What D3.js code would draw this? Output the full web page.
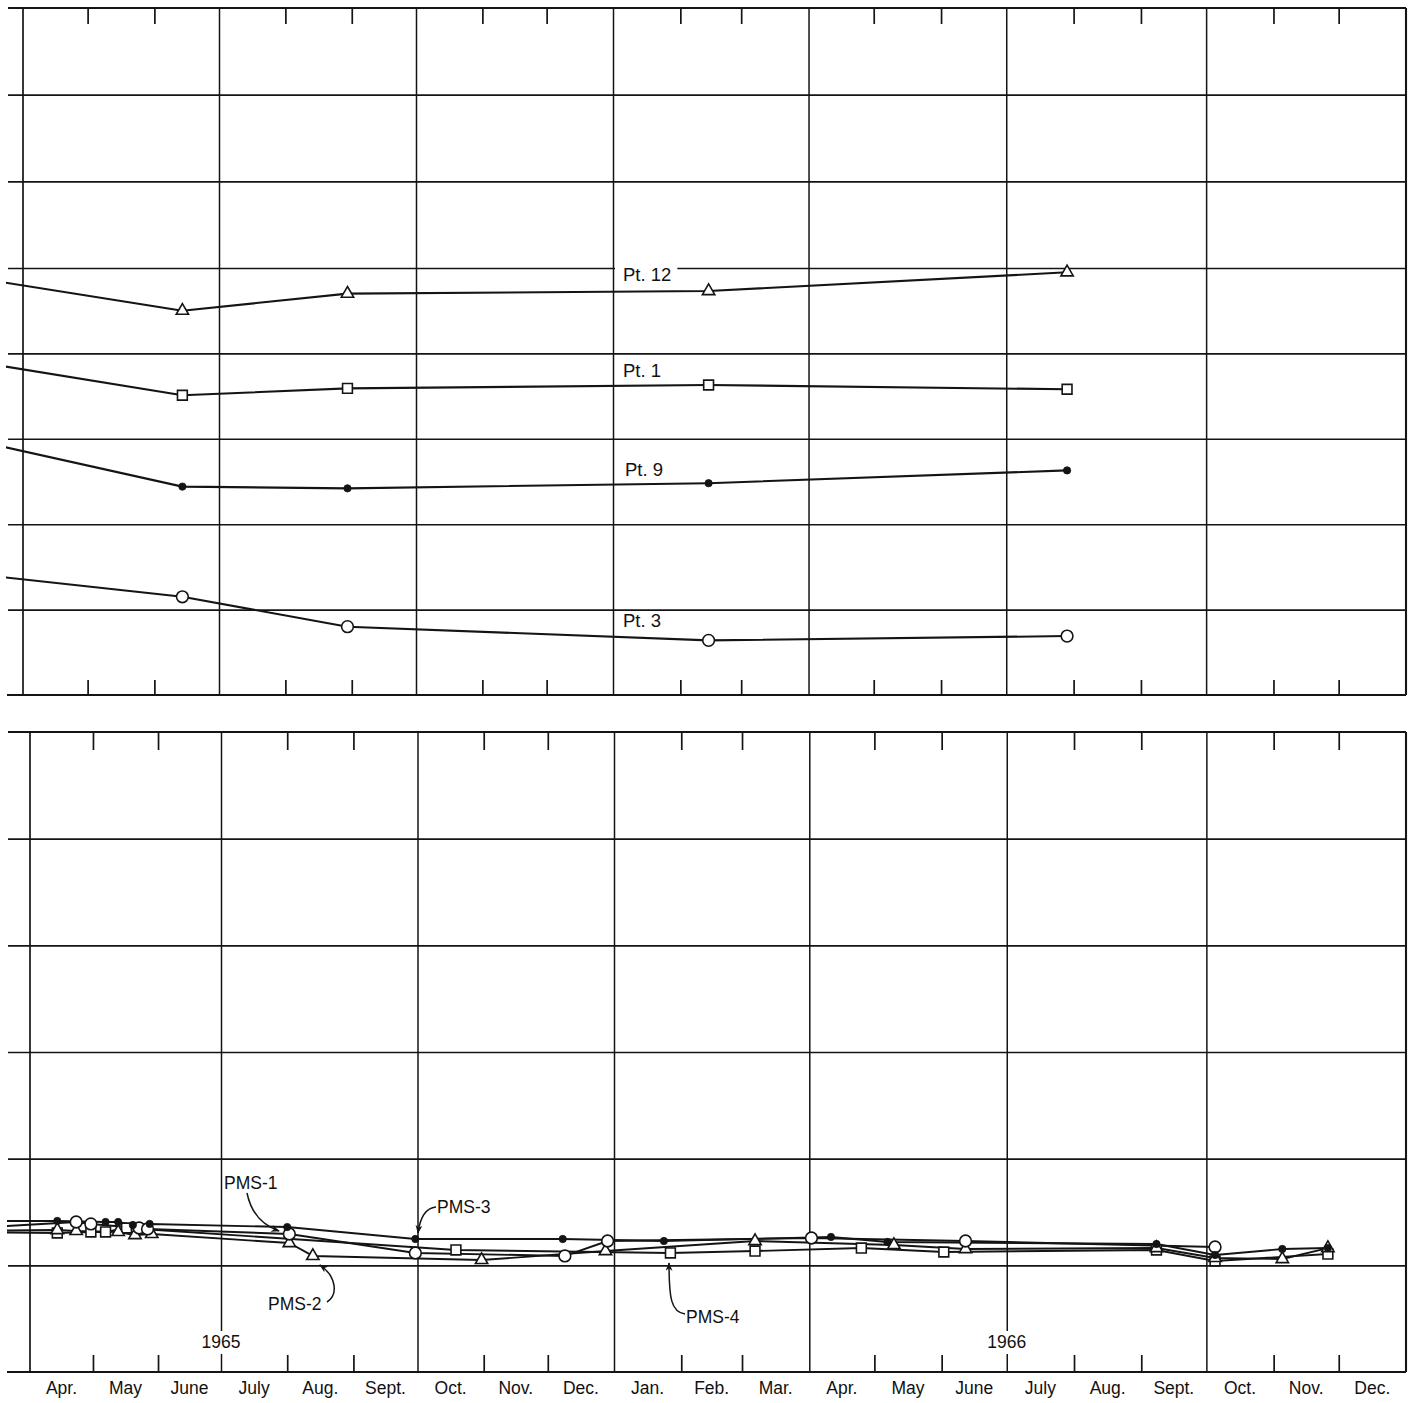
<!DOCTYPE html>
<html><head><meta charset="utf-8">
<script src="https://cdn.jsdelivr.net/npm/d3@7"></script>
<style>
html,body{margin:0;padding:0;background:#fff;}
svg{display:block;background:#fff;}
text{font-family:"Liberation Sans",Arial,Helvetica,sans-serif;fill:#111;}
</style></head><body>
<svg id="chart" width="1418" height="1403"></svg>
<script>
// ---------------- data ----------------
const monthLabels = ["Apr.","May","June","July","Aug.","Sept.","Oct.","Nov.","Dec.","Jan.","Feb.","Mar.","Apr.","May","June","July","Aug.","Sept.","Oct.","Nov.","Dec."];
const yearLabels = ["1965","1966"];
const yearDates = ["1965-07-01","1966-07-01"];

// upper panel: survey dates and values (arbitrary vertical units, grid = 1 unit)
const topDates = ["1965-03-01","1965-06-14","1965-08-30","1966-02-14","1966-07-29"];
const pt12 = [4.92,4.50,4.70,4.73,4.95];
const pt1  = [3.94,3.51,3.59,3.63,3.58];
const pt9  = [3.03,2.44,2.42,2.48,2.63];
const pt3  = [1.44,1.15,0.80,0.64,0.69];
const topNames = ["Pt. 12","Pt. 1","Pt. 9","Pt. 3"];

// lower panel
const pms1Dates = ["1965-03-01","1965-04-23","1965-04-30","1965-05-23","1965-05-27","1965-08-02","1965-09-30","1965-12-09","1965-12-29","1966-04-02","1966-06-12","1966-10-05"];
const pms1 = [1.345,1.406,1.388,1.350,1.341,1.294,1.116,1.088,1.228,1.256,1.228,1.172];
const pms2Dates = ["1965-03-01","1965-04-14","1965-04-23","1965-05-13","1965-05-21","1965-05-29","1965-08-02","1965-08-13","1965-10-31","1965-12-28","1966-03-07","1966-05-10","1966-06-12","1966-09-08","1966-10-05","1966-11-05","1966-11-26"];
const pms2 = [1.322,1.331,1.322,1.313,1.284,1.294,1.209,1.088,1.050,1.134,1.228,1.191,1.153,1.162,1.069,1.059,1.162];
const pms3Dates = ["1965-03-01","1965-04-14","1965-05-07","1965-05-13","1965-05-20","1965-05-28","1965-08-01","1965-09-30","1965-12-08","1966-01-24","1966-04-11","1966-05-07","1966-09-08","1966-10-05","1966-11-05","1966-11-26"];
const pms3 = [1.416,1.416,1.406,1.406,1.378,1.388,1.359,1.247,1.247,1.228,1.266,1.219,1.200,1.097,1.153,1.162];
const pms4Dates = ["1965-03-01","1965-04-14","1965-04-30","1965-05-07","1965-05-17","1965-10-19","1966-01-27","1966-03-07","1966-04-25","1966-06-02","1966-09-08","1966-10-05","1966-11-26"];
const pms4 = [1.313,1.303,1.313,1.313,1.350,1.144,1.116,1.134,1.162,1.125,1.144,1.041,1.106];
const pmsNames = ["PMS-1","PMS-2","PMS-3","PMS-4"];

// ---------------- setup ----------------
const parse = d3.timeParse("%Y-%m-%d");
const svg = d3.select("#chart");
const INK = "#141414";
const start = new Date(1965,3,1), end = new Date(1967,0,1);
const xTop = d3.scaleTime().domain([start,new Date(1965,6,1),new Date(1966,0,1),end]).range([23,219,613,1406]);
const xBot = d3.scaleTime().domain([start,new Date(1965,6,1),new Date(1966,0,1),end]).range([30,221,614,1406]);
const yTop = d3.scaleLinear().domain([0,5,8]).range([695,268,8]);
const yBot = d3.scaleLinear().domain([0,6]).range([1372,732]);

const months = d3.timeMonth.range(start,end);
const quarters = months.filter(m => m.getMonth()%3===0 && +m!==+start);
const minors = months.filter(m => m.getMonth()%3!==0);

function panel(x, y, yMax, tickLenTop, tickLenBot){
  const g = svg.append("g");
  const top = y(yMax), bot = y(0);
  const R = x(end);
  g.append("g").attr("transform",`translate(${R},0)`)
    .call(d3.axisLeft(y).tickValues(d3.range(1,yMax)).tickSize(R-8).tickFormat(""))
    .call(a=>a.select(".domain").remove())
    .call(a=>a.selectAll("line").attr("stroke",INK).attr("stroke-width",1.6));
  g.append("g").attr("transform",`translate(0,${top})`)
    .call(d3.axisBottom(x).tickValues(quarters).tickSize(bot-top).tickFormat(""))
    .call(a=>a.select(".domain").remove())
    .call(a=>a.selectAll("line").attr("stroke",INK).attr("stroke-width",1.5));
  g.append("g").attr("transform",`translate(0,${top})`)
    .call(d3.axisBottom(x).tickValues(minors).tickSize(tickLenTop).tickFormat(""))
    .call(a=>a.select(".domain").remove())
    .call(a=>a.selectAll("line").attr("stroke",INK).attr("stroke-width",1.7));
  g.append("g").attr("transform",`translate(0,${bot})`)
    .call(d3.axisTop(x).tickValues(minors).tickSize(tickLenBot).tickFormat(""))
    .call(a=>a.select(".domain").remove())
    .call(a=>a.selectAll("line").attr("stroke",INK).attr("stroke-width",1.7));
  const fr = g.append("g").attr("stroke",INK).attr("stroke-width",2.1).attr("fill","none");
  fr.append("line").attr("x1",8).attr("x2",R).attr("y1",top).attr("y2",top);
  fr.append("line").attr("x1",7).attr("x2",R).attr("y1",bot).attr("y2",bot);
  fr.append("line").attr("x1",x(start)).attr("x2",x(start)).attr("y1",top).attr("y2",bot).attr("stroke-width",1.7);
  fr.append("line").attr("x1",R).attr("x2",R).attr("y1",top).attr("y2",bot);
  return g;
}

panel(xTop, yTop, 8, 16, 15);
panel(xBot, yBot, 6, 18, 17);

const defs = svg.append("defs");
defs.append("clipPath").attr("id","clipTop").append("rect").attr("x",6).attr("y",0).attr("width",1400).attr("height",700);
defs.append("clipPath").attr("id","clipBot").append("rect").attr("x",7).attr("y",725).attr("width",1400).attr("height",650);
defs.append("marker").attr("id","arrow").attr("viewBox","0 0 10 8").attr("refX",9).attr("refY",4)
  .attr("markerWidth",9).attr("markerHeight",7).attr("markerUnits","userSpaceOnUse").attr("orient","auto")
  .append("path").attr("d","M0,0 L10,4 L0,8 L3,4 Z").attr("fill",INK);

const shapes = {
  triangle: d3.symbol().type(d3.symbolTriangle).size(66),
  square: d3.symbol().type(d3.symbolSquare).size(96),
  circle: d3.symbol().type(d3.symbolCircle).size(108),
  dot: d3.symbol().type(d3.symbolCircle).size(42)
};

function drawSeries(layer, x, y, dates, vals, clipId, lw){
  const pts = dates.map((d,i)=>({x:x(parse(d)), y:y(vals[i]), d:parse(d)}));
  layer.append("path").datum(pts).attr("clip-path",`url(#${clipId})`)
    .attr("fill","none").attr("stroke",INK).attr("stroke-width",lw).attr("stroke-linejoin","round")
    .attr("d", d3.line().x(p=>p.x).y(p=>p.y));
  return pts.filter(p=>p.d>=start);
}
function drawMarkers(layer, pts, shape){
  layer.selectAll(null).data(pts).enter().append("path")
    .attr("transform",p=>`translate(${p.x},${p.y})`)
    .attr("d", shapes[shape]())
    .attr("fill", shape==="dot" ? INK : "#fff")
    .attr("stroke", INK).attr("stroke-width", shape==="dot"?0.8:1.6);
}

// upper panel series
const topLayer = svg.append("g");
const topSpecs = [[pt12,"triangle"],[pt1,"square"],[pt9,"dot"],[pt3,"circle"]];
const topPts = topSpecs.map(([v,s])=>drawSeries(topLayer,xTop,yTop,topDates,v,"clipTop",2.1));
topSpecs.forEach(([v,s],i)=>drawMarkers(topLayer,topPts[i],s));

const topLabelPos = [[623,281],[623,377],[625,476],[623,627]];
topNames.forEach((n,i)=>{
  const t = topLayer.append("text").attr("x",topLabelPos[i][0]).attr("y",topLabelPos[i][1])
    .attr("font-size",18.5).text(n);
  const b = t.node().getBBox();
  topLayer.insert("rect","text").attr("x",b.x-8).attr("y",b.y+2).attr("width",b.width+14).attr("height",b.height-3).attr("fill","#fff");
});
topLayer.selectAll("text").raise();

// lower panel series
const botLayer = svg.append("g");
const botSpecs = [[pms4Dates,pms4,"square"],[pms2Dates,pms2,"triangle"],[pms1Dates,pms1,"circle"],[pms3Dates,pms3,"dot"]];
const botPts = botSpecs.map(([d,v,s])=>drawSeries(botLayer,xBot,yBot,d,v,"clipBot",1.9));
botSpecs.forEach(([d,v,s],i)=>drawMarkers(botLayer,botPts[i],s));

// annotations
const ann = svg.append("g");
const annText = [[224,1189],[268,1310],[437,1213],[686,1323]];
pmsNames.forEach((n,i)=>ann.append("text").attr("x",annText[i][0]).attr("y",annText[i][1]).attr("font-size",17.5).text(n));
const arrows = [
  "M247,1193 Q253,1222 279,1231",
  "M327,1302 C338,1295 337,1277 320,1265",
  "M436,1207 C425,1208 420,1218 418,1233",
  "M685,1314 C671,1312 669,1298 669,1263"
];
ann.selectAll(null).data(arrows).enter().append("path").attr("d",d=>d)
  .attr("fill","none").attr("stroke",INK).attr("stroke-width",1.5).attr("marker-end","url(#arrow)");

// month labels
const axisG = svg.append("g");
months.forEach((m,i)=>{
  const nx = d3.timeMonth.offset(m,1);
  axisG.append("text").attr("x",(xBot(m)+xBot(nx))/2).attr("y",1394).attr("text-anchor","middle")
    .attr("font-size",17.5).text(monthLabels[i]);
});
yearLabels.forEach((yl,i)=>{
  const xx = xBot(parse(yearDates[i]));
  axisG.append("rect").attr("x",xx-24).attr("y",1331).attr("width",48).attr("height",23).attr("fill","#fff");
  axisG.append("text").attr("x",xx).attr("y",1347.5).attr("text-anchor","middle").attr("font-size",17.5).text(yl);
});
</script>
</body></html>
